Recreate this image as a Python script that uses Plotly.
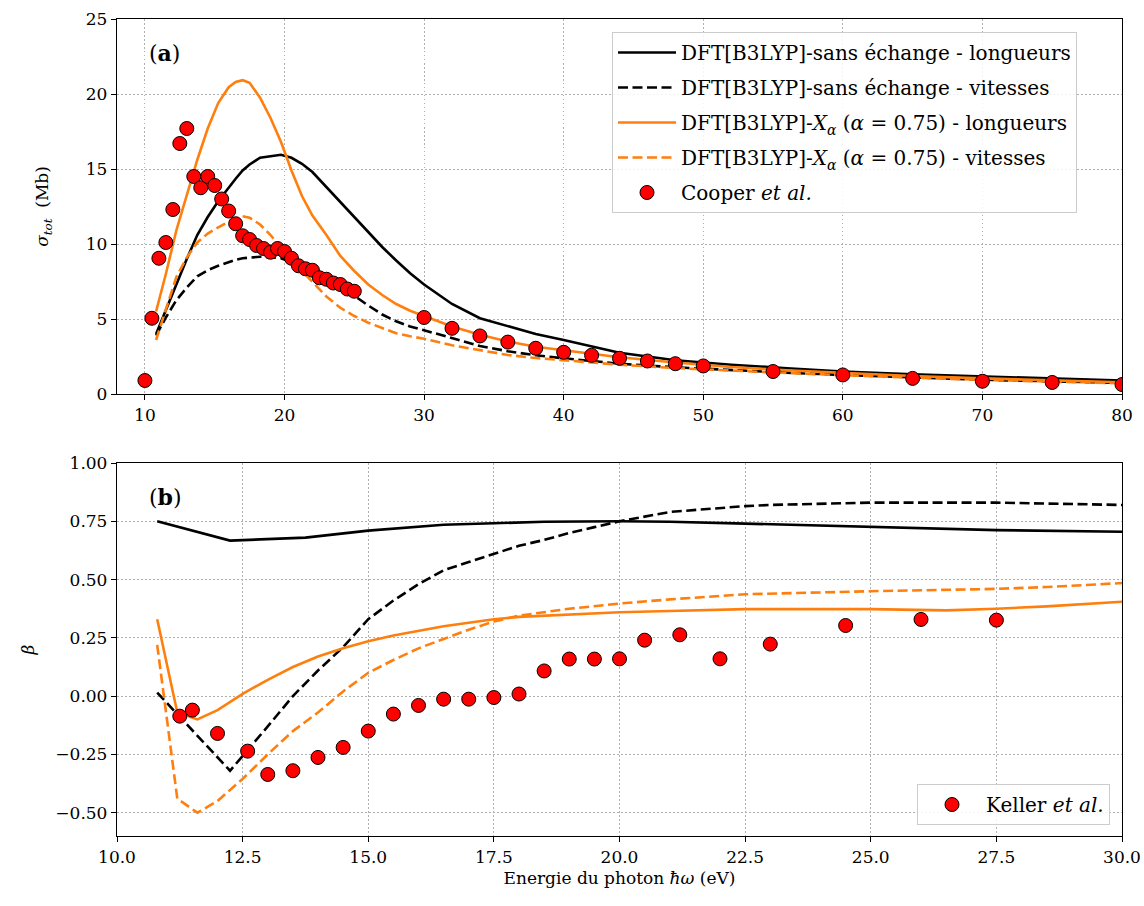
import plotly.graph_objects as go

# ---------------- Panel (a): total cross section ----------------
E_theo = [10.8, 11.5, 12.25, 13, 13.75, 14.5, 15.25, 16, 16.5, 17, 17.5, 18.25, 19, 19.75,
          20.5, 21.25, 22, 23, 24, 25, 26, 27, 28, 29, 30, 32, 34, 36, 38, 40, 44, 48,
          52, 56, 60, 65, 70, 75, 80]
sig_noex_len = [4.0, 5.6, 7.4, 9.0, 10.6, 11.8, 12.85, 13.8, 14.35, 14.9, 15.3, 15.75, 15.85, 15.95,
                15.75, 15.35, 14.8, 13.8, 12.85, 11.85, 10.8, 9.8, 8.9, 8.05, 7.3, 6.0, 5.05, 4.5,
                4.0, 3.6, 2.75, 2.25, 1.95, 1.72, 1.5, 1.32, 1.16, 1.02, 0.89]
sig_noex_vel = [3.9, 5.1, 6.25, 7.1, 7.85, 8.25, 8.55, 8.8, 8.95, 9.05, 9.1, 9.15, 9.12, 9.05,
                8.8, 8.4, 7.95, 7.5, 7.0, 6.55, 5.9, 5.3, 4.85, 4.5, 4.25, 3.7, 3.2, 2.85,
                2.58, 2.38, 2.02, 1.78, 1.58, 1.42, 1.27, 1.1, 0.95, 0.84, 0.74]
sig_xa_len = [5.5, 8.0, 10.9, 13.2, 15.6, 17.7, 19.4, 20.45, 20.8, 20.92, 20.75, 19.75, 18.4, 16.8,
              14.9, 13.2, 11.9, 10.6, 9.2, 8.2, 7.3, 6.6, 6.0, 5.55, 5.2, 4.5, 3.95, 3.5,
              3.15, 2.9, 2.45, 2.1, 1.8, 1.58, 1.4, 1.2, 1.04, 0.9, 0.78]
sig_xa_vel = [3.6, 5.6, 7.8, 9.1, 10.1, 10.7, 11.1, 11.5, 11.7, 11.85, 11.75, 11.3, 10.6, 9.75,
              8.9, 8.2, 7.5, 6.5, 5.75, 5.2, 4.75, 4.4, 4.05, 3.85, 3.68, 3.25, 2.9, 2.6,
              2.4, 2.25, 1.95, 1.73, 1.55, 1.4, 1.25, 1.08, 0.94, 0.82, 0.72]

E_cooper = [10, 10.5, 11, 11.5, 12, 12.5, 13, 13.5, 14, 14.5, 15, 15.5, 16, 16.5, 17, 17.5,
            18, 18.5, 19, 19.5, 20, 20.5, 21, 21.5, 22, 22.5, 23, 23.5, 24, 24.5, 25,
            30, 32, 34, 36, 38, 40, 42, 44, 46, 48, 50, 55, 60, 65, 70, 75, 80]
sig_cooper = [0.9, 5.05, 9.05, 10.1, 12.3, 16.7, 17.7, 14.5, 13.75, 14.5, 13.9, 13.0, 12.2, 11.35,
              10.55, 10.3, 9.9, 9.7, 9.45, 9.7, 9.5, 9.05, 8.55, 8.35, 8.25, 7.75, 7.65, 7.4,
              7.3, 7.0, 6.85, 5.1, 4.38, 3.87, 3.46, 3.05, 2.78, 2.58, 2.38, 2.2, 2.02, 1.87,
              1.5, 1.27, 1.04, 0.85, 0.77, 0.63]

# ---------------- Panel (b): asymmetry parameter beta ----------------
E_b_noex_len = [10.8, 12.25, 13.75, 15, 16.5, 17.5, 18.5, 20, 21, 22.5, 25, 27.5, 30]
b_noex_len = [0.75, 0.667, 0.68, 0.71, 0.735, 0.743, 0.748, 0.75, 0.748, 0.74, 0.727, 0.712, 0.705]

E_b_noex_vel = [10.8, 12.25, 13, 13.5, 14, 14.5, 15, 15.5, 16, 16.5, 17, 17.5, 18, 18.5, 19,
                19.5, 20, 21, 22, 22.5, 23, 25, 27.5, 30]
b_noex_vel = [0.015, -0.32, -0.13, 0.0, 0.11, 0.21, 0.33, 0.41, 0.48, 0.54, 0.575, 0.61, 0.645,
              0.67, 0.70, 0.725, 0.75, 0.79, 0.808, 0.815, 0.82, 0.83, 0.83, 0.82]

E_b_xa = [10.8, 11.2, 11.6, 12, 12.5, 13, 13.5, 14, 14.5, 15, 15.5, 16, 16.5, 17, 17.5, 18,
          19, 20, 21, 22.5, 25, 26.5, 27.5, 28.5, 30]
b_xa_len = [0.33, -0.07, -0.10, -0.06, 0.01, 0.07, 0.125, 0.17, 0.205, 0.235, 0.26, 0.28, 0.30,
            0.315, 0.33, 0.34, 0.35, 0.36, 0.365, 0.373, 0.373, 0.368, 0.375, 0.385, 0.405]
b_xa_vel = [0.22, -0.44, -0.50, -0.45, -0.355, -0.25, -0.15, -0.07, 0.02, 0.10, 0.155, 0.205,
            0.245, 0.285, 0.32, 0.345, 0.375, 0.397, 0.415, 0.437, 0.45, 0.455, 0.46, 0.468, 0.485]

E_keller = [11.25, 11.5, 12, 12.6, 13, 13.5, 14, 14.5, 15, 15.5, 16, 16.5, 17, 17.5, 18, 18.5,
            19, 19.5, 20, 20.5, 21.2, 22, 23, 24.5, 26, 27.5]
b_keller = [-0.086, -0.06, -0.16, -0.236, -0.336, -0.32, -0.263, -0.22, -0.15, -0.077, -0.04,
            -0.013, -0.013, -0.006, 0.009, 0.108, 0.159, 0.159, 0.16, 0.24, 0.263, 0.16, 0.223,
            0.303, 0.329, 0.326]

names = ["DFT[B3LYP]-sans échange - longueurs",
         "DFT[B3LYP]-sans échange - vitesses",
         "DFT[B3LYP]-<i>X</i><sub><i>α</i></sub> (<i>α</i> = 0.75) - longueurs",
         "DFT[B3LYP]-<i>X</i><sub><i>α</i></sub> (<i>α</i> = 0.75) - vitesses",
         "Cooper <i>et al.</i>",
         "Keller <i>et al.</i>"]

BLACK = "#000000"
ORANGE = "#ff7f0e"
DASH = "10px,4.5px"
LW = 2.6
FONT = "DejaVu Serif"

fig = go.Figure()

def line(x, y, color, dash, name, xa, ya, show, group):
    fig.add_trace(go.Scatter(x=x, y=y, mode="lines", name=name,
                             line=dict(color=color, width=LW, dash=dash),
                             xaxis=xa, yaxis=ya, showlegend=show, legendgroup=group))

line(E_theo, sig_noex_len, BLACK, "solid", names[0], "x", "y", True, "g1")
line(E_theo, sig_noex_vel, BLACK, DASH, names[1], "x", "y", True, "g2")
line(E_theo, sig_xa_len, ORANGE, "solid", names[2], "x", "y", True, "g3")
line(E_theo, sig_xa_vel, ORANGE, DASH, names[3], "x", "y", True, "g4")
fig.add_trace(go.Scatter(x=E_cooper, y=sig_cooper, mode="markers", name=names[4],
                         marker=dict(color="red", size=14, line=dict(color="black", width=1)),
                         xaxis="x", yaxis="y", legendgroup="g5"))

line(E_b_noex_len, b_noex_len, BLACK, "solid", names[0], "x2", "y2", False, "g1")
line(E_b_noex_vel, b_noex_vel, BLACK, DASH, names[1], "x2", "y2", False, "g2")
line(E_b_xa, b_xa_len, ORANGE, "solid", names[2], "x2", "y2", False, "g3")
line(E_b_xa, b_xa_vel, ORANGE, DASH, names[3], "x2", "y2", False, "g4")
fig.add_trace(go.Scatter(x=E_keller, y=b_keller, mode="markers", name=names[5],
                         marker=dict(color="red", size=14, line=dict(color="black", width=1)),
                         xaxis="x2", yaxis="y2", legend="legend2"))

W, H = 1144, 906
ML, MR, MT, MB = 117, 22, 19, 70
ph = H - MT - MB
pw = W - ML - MR
top_lo = (H - MB - 394) / ph
bot_hi = (H - MB - 463) / ph

axis_common = dict(showline=True, linecolor="black", linewidth=1.3, mirror=True,
                   ticks="outside", ticklen=5, tickwidth=1.2, tickcolor="black",
                   showgrid=True, gridcolor="#b0b0b0", griddash="1.5px,2.5px", gridwidth=1,
                   zeroline=False, tickfont=dict(family=FONT, size=17, color="black"))

fig.update_layout(
    width=W, height=H,
    margin=dict(l=ML, r=MR, t=MT, b=MB, autoexpand=False),
    paper_bgcolor="white", plot_bgcolor="white",
    font=dict(family=FONT, size=17, color="black"),
    xaxis=dict(axis_common, domain=[0, 1], anchor="y", range=[8, 80],
               tickvals=[10, 20, 30, 40, 50, 60, 70, 80]),
    yaxis=dict(axis_common, domain=[top_lo, 1], anchor="x", range=[0, 25],
               tickvals=[0, 5, 10, 15, 20, 25],
               title=dict(text="<i>σ</i><sub><i>tot</i></sub>  (Mb)", standoff=32,
                          font=dict(family=FONT, size=17))),
    xaxis2=dict(axis_common, domain=[0, 1], anchor="y2", range=[10, 30],
                tickvals=[10, 12.5, 15, 17.5, 20, 22.5, 25, 27.5, 30], tickformat=".1f",
                title=dict(text="Energie du photon <i>ħω</i> (eV)", standoff=6,
                           font=dict(family=FONT, size=17))),
    yaxis2=dict(axis_common, domain=[0, bot_hi], anchor="x2", range=[-0.6, 1.0],
                tickvals=[-0.5, -0.25, 0, 0.25, 0.5, 0.75, 1.0], tickformat=".2f",
                title=dict(text="<i>β</i>", standoff=16, font=dict(family=FONT, size=17))),
    legend=dict(x=(612 - ML) / pw, y=(H - MB - 32) / ph, xanchor="left", yanchor="top",
                bgcolor="rgba(255,255,255,0.85)", bordercolor="#cccccc", borderwidth=1,
                font=dict(family=FONT, size=20), tracegroupgap=6, itemwidth=58),
    legend2=dict(x=(1110 - ML) / pw, y=(H - MB - 825) / ph, xanchor="right",
                 yanchor="bottom", bgcolor="rgba(255,255,255,0.85)", bordercolor="#cccccc",
                 borderwidth=1, font=dict(family=FONT, size=20), itemwidth=58),
    annotations=[
        dict(text="(<b>a</b>)", xref="x domain", yref="y domain", x=0.03, y=0.91,
             xanchor="left", yanchor="middle", showarrow=False, font=dict(family=FONT, size=22)),
        dict(text="(<b>b</b>)", xref="x2 domain", yref="y2 domain", x=0.03, y=0.91,
             xanchor="left", yanchor="middle", showarrow=False, font=dict(family=FONT, size=22)),
    ],
)

fig.write_html("out.html", config={"displayModeBar": False},
               post_script="document.body.style.margin='0px';")
